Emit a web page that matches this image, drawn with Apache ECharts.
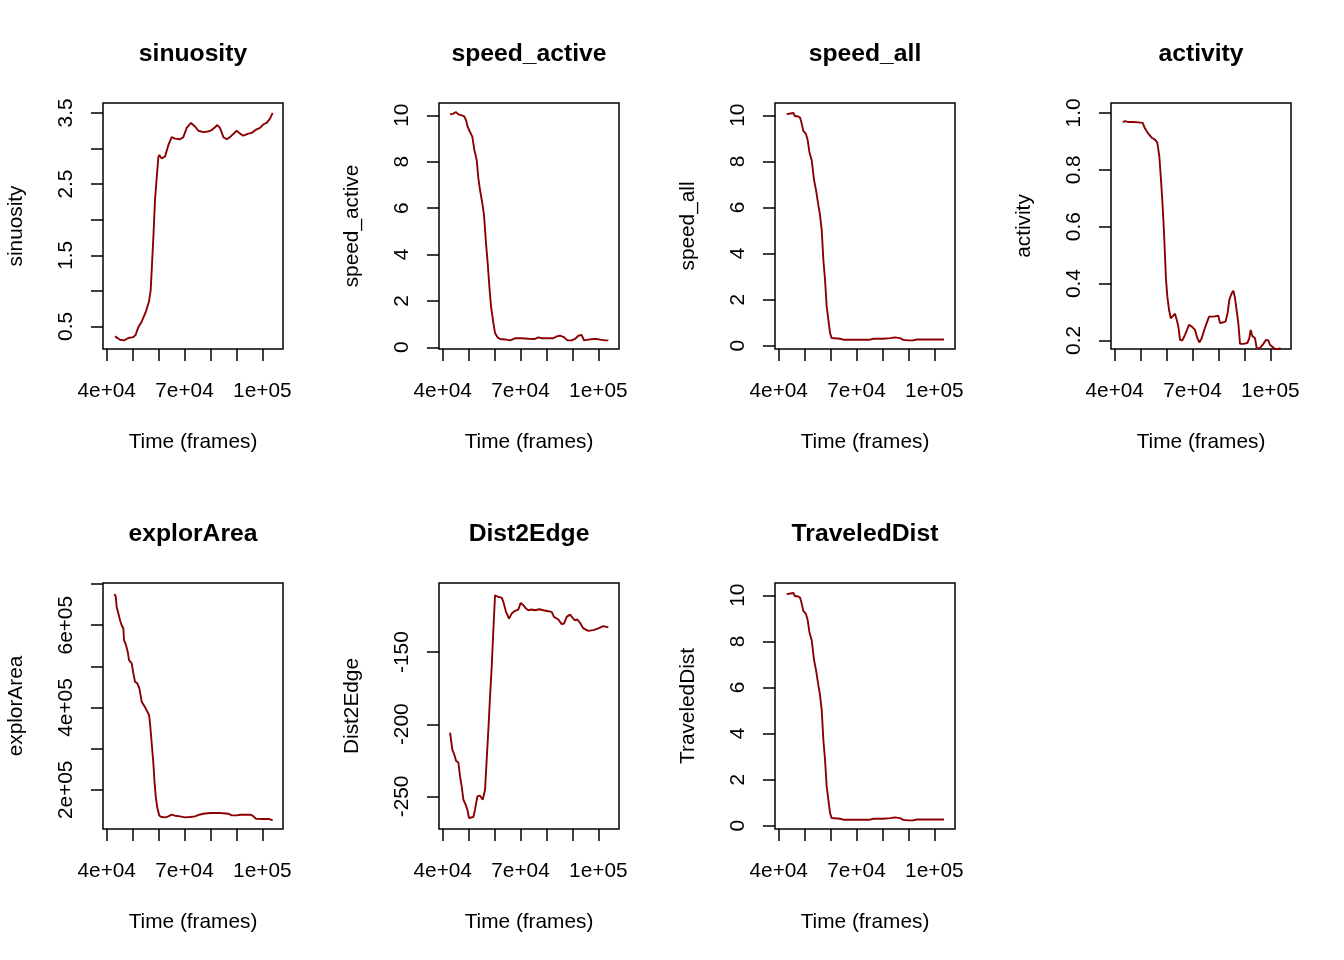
<!DOCTYPE html>
<html>
<head>
<meta charset="utf-8">
<script src="https://cdn.jsdelivr.net/npm/echarts@6/dist/echarts.min.js"></script>
<style>
html,body{margin:0;padding:0;background:#fff;}
#chart{width:1344px;height:960px;}
</style>
</head>
<body>
<div id="chart"></div>
<script>
// ---------- data ----------
const timeTicks = [40000, 50000, 60000, 70000, 80000, 90000, 100000];
const timeLabels = [40000, 70000, 100000];

const sinuosityTime = [43200,45140,46700,48350,50280,51180,52200,53500,55000,56300,56960,57350,58000,58630,59300,59920,60300,61200,62500,63800,65060,66340,68270,69550,70840,72500,74050,75340,77270,79200,80480,81770,82660,83700,84980,86260,87550,90110,91400,92690,94610,95900,97820,99100,100400,101700,102960,104000];
const sinuosity = [0.36,0.313,0.304,0.337,0.35,0.383,0.49,0.57,0.696,0.85,1.01,1.29,1.76,2.28,2.6,2.88,2.91,2.86,2.89,3.05,3.16,3.14,3.13,3.16,3.29,3.36,3.31,3.25,3.23,3.24,3.26,3.3,3.33,3.29,3.16,3.13,3.16,3.25,3.21,3.18,3.21,3.22,3.27,3.29,3.34,3.36,3.42,3.5];
const sinuosityTicks = [0.5,1,1.5,2,2.5,3,3.5];
const sinuosityLabels = [0.5,1.5,2.5,3.5];

const speedActiveTime = [42830,44110,45140,46040,47320,48220,49000,49640,50540,51440,52210,53110,53750,54390,55290,55930,56700,57350,57990,58630,59530,60170,61070,62100,64030,65960,67880,70450,73020,75600,76880,78160,80090,82660,83950,85230,86770,88060,89730,91010,92300,93580,94480,96150,98080,99370,100650,102580,103860];
const speedActive = [10.04,10.07,10.14,10.04,10.0,9.96,9.79,9.5,9.28,9.07,8.5,8.07,7.28,6.78,6.2,5.7,4.48,3.62,2.62,1.76,1.05,0.62,0.44,0.36,0.34,0.30,0.39,0.39,0.37,0.36,0.43,0.39,0.39,0.39,0.47,0.50,0.44,0.30,0.30,0.36,0.50,0.54,0.30,0.33,0.36,0.36,0.33,0.30,0.30];
const speedActiveTicks = [0,2,4,6,8,10];
const speedActiveLabels = [0,2,4,6,8,10];

const speedAllTime = [43080,43980,44630,45650,46300,47320,48220,48870,49500,50540,51180,51820,52720,53620,54390,55290,55930,56580,57220,57860,58500,59150,59790,60430,61720,63640,64930,70070,75210,76490,80350,82920,84850,86770,88060,89990,91910,93200,95770,99620,103740];
const speedAll = [10.04,10.07,10.1,10.1,9.96,9.96,9.9,9.64,9.32,9.18,8.92,8.41,8.05,7.19,6.75,6.1,5.67,5.02,3.72,2.86,1.70,1.13,0.55,0.33,0.32,0.30,0.26,0.26,0.26,0.30,0.30,0.33,0.36,0.33,0.25,0.23,0.23,0.27,0.27,0.27,0.27];
const speedAllTicks = [0,2,4,6,8,10];
const speedAllLabels = [0,2,4,6,8,10];

const activityTime = [43080,43980,45270,47200,49120,50790,51690,52980,54260,55550,56450,57220,57860,58500,59020,59400,59790,60300,60950,61590,62360,63260,63900,64550,65190,66090,67110,68650,69680,70970,71870,72640,73540,74440,75470,76370,78040,79960,80610,81630,82790,83560,84200,85100,85750,86390,87030,87670,88320,89600,91140,91910,92430,93070,94100,94740,96030,97310,98340,99240,99880,100910,101810,103090,103990];
const activity = [0.968,0.971,0.968,0.968,0.967,0.965,0.945,0.927,0.913,0.906,0.895,0.846,0.764,0.670,0.577,0.495,0.413,0.354,0.308,0.278,0.284,0.294,0.273,0.249,0.202,0.2,0.22,0.255,0.249,0.237,0.208,0.193,0.208,0.235,0.261,0.284,0.284,0.287,0.261,0.263,0.267,0.298,0.343,0.366,0.375,0.349,0.343,0.261,0.188,0.188,0.191,0.208,0.237,0.216,0.208,0.173,0.173,0.188,0.202,0.2,0.185,0.177,0.170,0.170,0.173];
const activityTicks = [0.2,0.4,0.6,0.8,1.0];
const activityLabels = [0.2,0.4,0.6,0.8,1.0];

const explorAreaTime = [42960,43470,43850,44500,45140,45780,46430,46680,47450,48100,48610,49640,50280,50920,51820,52590,53490,54130,55030,55670,56320,56700,57350,57990,58380,58890,59530,60300,61200,62740,63770,65060,66340,68270,70200,72130,74050,75720,77270,79840,83700,86910,88190,90380,91400,95260,96290,97570,100400,102700,104000];
const explorArea = [676000,670300,644400,628300,612100,600000,591900,563600,551500,535400,515200,507100,482800,462600,458600,446500,414100,410100,398000,393900,381800,361600,313100,264700,224200,183800,155600,136900,133700,132900,135400,139400,137000,135400,132900,133700,135400,139400,141800,143400,143400,141800,137800,137800,139400,139400,137000,129700,128900,128900,125700];
const explorAreaTicks = [200000,300000,400000,500000,600000,700000];
const explorAreaLabels = [200000,400000,600000];

const dist2EdgeTime = [42830,43210,43730,44500,45140,46040,46680,47320,47970,48870,49510,50150,50920,51820,52460,53360,54390,55420,56320,56960,57600,58250,58890,59530,60170,60820,61460,62740,63390,64410,65570,66600,67880,69170,70070,71100,72130,73020,74310,75600,77270,78810,80740,82020,82920,84590,85870,86770,87800,89090,90110,91010,91910,92940,94230,96150,98080,100010,101940,102580,103860];
const dist2Edge = [-205.8,-210.8,-217.7,-221.2,-225.3,-226.5,-236.2,-243.1,-252.3,-255.8,-259.2,-265.0,-266.1,-264.3,-259.2,-250.0,-249.5,-252.3,-245.4,-224.7,-203.9,-180.9,-160.1,-134.8,-110.6,-109.4,-111.8,-112.2,-115.2,-122.1,-126.7,-123.3,-121.4,-120.5,-115.9,-117.5,-119.8,-121.0,-120.5,-121.0,-120.3,-121.0,-121.7,-122.1,-125.6,-127.4,-130.6,-130.2,-125.6,-124.0,-126.3,-127.9,-127.4,-129.7,-133.6,-135.3,-134.8,-133.6,-132.0,-132.9,-132.9];
const dist2EdgeTicks = [-250,-200,-150];
const dist2EdgeLabels = [-250,-200,-150];

const traveledDistTime = [43080,43980,44630,45650,46300,47320,48220,48870,49500,50540,51180,51820,52720,53620,54390,55290,55930,56580,57220,57860,58500,59150,59790,60430,61720,63640,64930,70070,75210,76490,80350,82920,84850,86770,88060,89990,91910,93200,95770,99620,103740];
const traveledDist = [10.04,10.07,10.1,10.1,9.96,9.96,9.9,9.64,9.32,9.18,8.92,8.41,8.05,7.19,6.75,6.1,5.67,5.02,3.72,2.86,1.70,1.13,0.55,0.33,0.32,0.30,0.26,0.26,0.26,0.30,0.30,0.33,0.36,0.33,0.25,0.23,0.23,0.27,0.27,0.27,0.27];
const traveledDistTicks = [0,2,4,6,8,10];
const traveledDistLabels = [0,2,4,6,8,10];

// ---------- formatting ----------
function sci(v){
  if (v === 0) return '0';
  const e = Math.floor(Math.log10(Math.abs(v)) + 1e-9);
  const m = Math.round(v / Math.pow(10, e) * 1000) / 1000;
  return m + 'e+' + String(e).padStart(2, '0');
}
const d1 = v => v.toFixed(1);
const d0 = v => String(Math.round(v));

const panels = [
  {title:'sinuosity', t:sinuosityTime, v:sinuosity, ticks:sinuosityTicks, labels:sinuosityLabels, ymin:0.183, ymax:3.640, fmt:d1},
  {title:'speed_active', t:speedActiveTime, v:speedActive, ticks:speedActiveTicks, labels:speedActiveLabels, ymin:-0.072, ymax:10.53, fmt:d0},
  {title:'speed_all', t:speedAllTime, v:speedAll, ticks:speedAllTicks, labels:speedAllLabels, ymin:-0.144, ymax:10.534, fmt:d0},
  {title:'activity', t:activityTime, v:activity, ticks:activityTicks, labels:activityLabels, ymin:0.170, ymax:1.035, fmt:d1},
  {title:'explorArea', t:explorAreaTime, v:explorArea, ticks:explorAreaTicks, labels:explorAreaLabels, ymin:104650, ymax:702600, fmt:sci},
  {title:'Dist2Edge', t:dist2EdgeTime, v:dist2Edge, ticks:dist2EdgeTicks, labels:dist2EdgeLabels, ymin:-272.6, ymax:-102.1, fmt:d0},
  {title:'TraveledDist', t:traveledDistTime, v:traveledDist, ticks:traveledDistTicks, labels:traveledDistLabels, ymin:-0.144, ymax:10.534, fmt:d0}
];

const FONT = '"Liberation Sans", Arial, Helvetica, sans-serif';
const FS = 20.8;
const XMIN = 38570, XMAX = 107980;
const grids = [], xAxes = [], yAxes = [], series = [], graphics = [];

panels.forEach((p, i) => {
  const col = i % 4, row = Math.floor(i / 4);
  const left = 103 + 336 * col, top = 103 + 480 * row;
  const W = 180, H = 246;
  grids.push({left: left, top: top, width: W, height: H, show: true,
    borderColor: '#000', borderWidth: 1.5, backgroundColor: 'transparent', containLabel: false});
  xAxes.push({
    type: 'value', gridIndex: i, min: XMIN, max: XMAX, position: 'bottom',
    name: 'Time (frames)', nameLocation: 'middle', nameGap: 83,
    nameTextStyle: {fontFamily: FONT, fontSize: FS, color: '#000'},
    axisLine: {show: false, onZero: false},
    splitLine: {show: false},
    axisTick: {show: true, inside: false, length: 12, lineStyle: {color: '#000', width: 1.5}, customValues: timeTicks},
    axisLabel: {show: true, margin: 32, fontFamily: FONT, fontSize: FS, color: '#000', customValues: timeLabels, formatter: sci}
  });
  yAxes.push({
    type: 'value', gridIndex: i, min: p.ymin, max: p.ymax, position: 'left',
    name: p.title, nameLocation: 'middle', nameGap: 76, nameRotate: 90,
    nameTextStyle: {fontFamily: FONT, fontSize: FS, color: '#000'},
    axisLine: {show: false, onZero: false},
    splitLine: {show: false},
    axisTick: {show: true, inside: false, length: 12, lineStyle: {color: '#000', width: 1.5}, customValues: p.ticks},
    axisLabel: {show: true, rotate: 90, margin: 26, fontFamily: FONT, fontSize: FS, color: '#000', customValues: p.labels, formatter: p.fmt}
  });
  series.push({
    type: 'line', xAxisIndex: i, yAxisIndex: i,
    data: p.t.map((x, k) => [x, p.v[k]]),
    showSymbol: false, symbol: 'none', smooth: false,
    lineStyle: {color: '#8B0000', width: 1.9},
    clip: false, animation: false
  });
  graphics.push({
    type: 'text', x: left + W / 2, y: 54 + 480 * row,
    style: {text: p.title, font: 'bold 24.7px ' + FONT, fill: '#000', textAlign: 'center', textVerticalAlign: 'middle'}
  });
});

const chart = echarts.init(document.getElementById('chart'), null, {renderer: 'canvas'});
chart.setOption({
  backgroundColor: '#fff',
  animation: false,
  grid: grids, xAxis: xAxes, yAxis: yAxes, series: series,
  graphic: graphics
});
</script>
</body>
</html>
